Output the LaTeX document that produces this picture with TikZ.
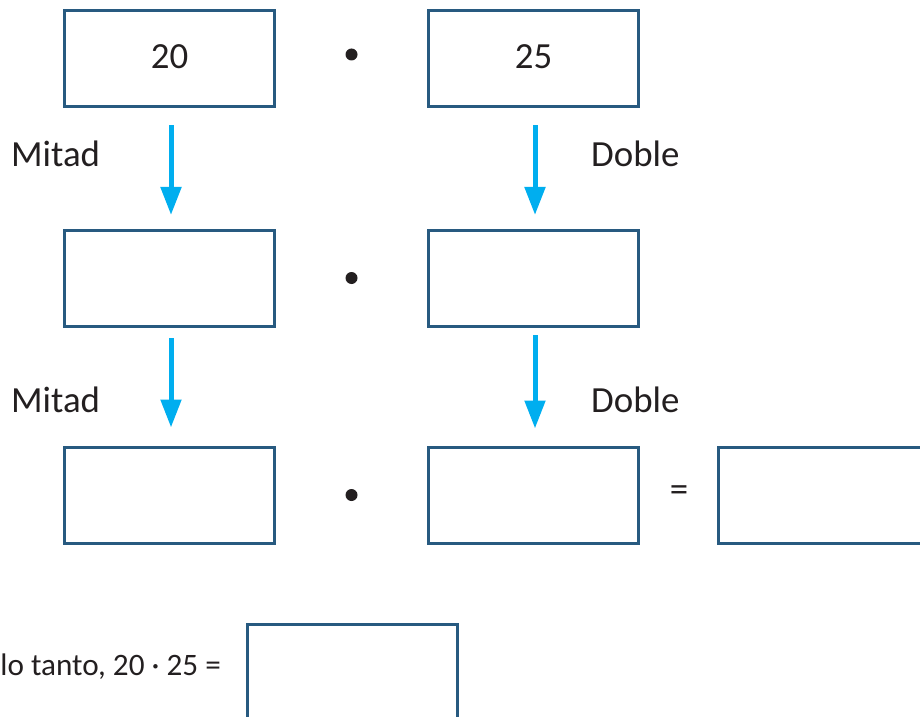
\documentclass[tikz,border=0pt]{standalone}
\usepackage{fontspec}
\setmainfont{Carlito}
\usetikzlibrary{positioning,arrows.meta}
\definecolor{boxColor}{RGB}{40,90,128}
\definecolor{arrowColor}{RGB}{0,174,239}
\definecolor{textColor}{RGB}{35,31,32}
\newcommand{\bigText}{\fontsize{37}{44}\selectfont}
\newcommand{\smallText}{\fontsize{31.3}{38}\selectfont}
\tikzstyle{sheet} = [x = 1bp, y = -1bp]
\tikzstyle{boxStyle} = [draw=boxColor, line width=3bp, minimum width=210bp, minimum height=96bp, inner sep=0pt, text depth=.3em, font=\bigText, text=textColor]
\tikzstyle{arrowStyle} = [draw=arrowColor, line width=5bp, -{Triangle[length=28bp,width=20bp]}]
\tikzstyle{dotStyle} = [circle, fill=textColor, minimum size=12bp, inner sep=0pt]
\tikzstyle{stepText} = [anchor=base west, font=\bigText, text=textColor, inner sep=0pt]
\newcommand{\stepArrow}[4]{\draw [arrowStyle, shorten <=#3bp, shorten >=#4bp] ([xshift=1.5bp]#1.south) -- ([xshift=1.5bp]#2.north);}
\begin{document}
\begin{tikzpicture}[sheet]
  \clip (0,0) rectangle (920,717);
  % factors
  \node [boxStyle] (factorA) at (169.5,58.5) {20};
  \node [boxStyle] (factorB) at (533.5,58.5) {25};
  \node [boxStyle] (halfA) at (169.5,278.5) {};
  \node [boxStyle] (doubleA) at (533.5,278.5) {};
  \node [boxStyle] (halfB) at (169.5,495) {};
  \node [boxStyle] (doubleB) at (533.5,495) {};
  \node [boxStyle] (result) at (823.5,495) {};
  \node [font=\bigText, text=textColor] (equalSign) at (679,494) {=};
  \foreach \row/\ypos in {A/54.5,B/278,C/495} {
    \node [dotStyle] (dot\row) at (351.5,\ypos) {};
  }
  % steps
  \stepArrow{factorA}{halfA}{17}{14}
  \stepArrow{factorB}{doubleA}{17}{14}
  \stepArrow{halfA}{halfB}{10}{18}
  \stepArrow{doubleA}{doubleB}{7}{17}
  \node [stepText] (mitadA) at (11,167) {Mitad};
  \node [stepText] (dobleA) at (591,167) {Doble};
  \node [stepText] (mitadB) at (11,412) {Mitad};
  \node [stepText] (dobleB) at (591,412) {Doble};
  % answer
  \node [boxStyle] (answer) at (352.5,672) {};
  \node [anchor=base east, font=\smallText, text=textColor, inner sep=0pt] (answerText) at (221,675) {Por lo tanto, 20 · 25 =};
\end{tikzpicture}
\end{document}
